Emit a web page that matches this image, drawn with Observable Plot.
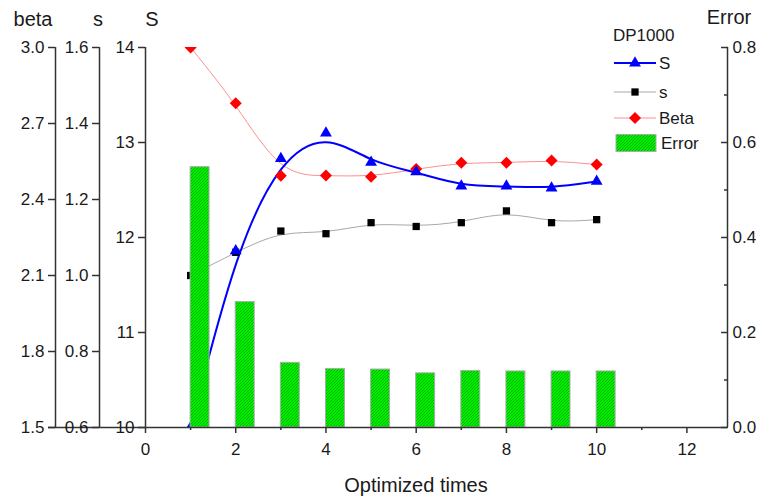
<!DOCTYPE html>
<html><head><meta charset="utf-8">
<script src="https://cdn.jsdelivr.net/npm/d3@7"></script>
<script src="https://cdn.jsdelivr.net/npm/@observablehq/plot@0.6"></script>
<style>
body{margin:0;background:#fff;}
#wrap{position:relative;width:764px;height:497px;font-family:"Liberation Sans",Arial,sans-serif;color:#1a1a1a;}
.t{position:absolute;white-space:nowrap;line-height:1;}
.c{transform:translate(-50%,-50%);}
.l{transform:translate(0,-50%);}
</style></head><body><div id="wrap"></div>
<script>
// ---- data ----
const times = [1,2,3,4,5,6,7,8,9,10];
const S     = [10.0, 11.86, 12.83, 13.10, 12.79, 12.69, 12.54, 12.54, 12.52, 12.59];
const sVals = [1.00, 1.061, 1.117, 1.110, 1.139, 1.129, 1.139, 1.170, 1.139, 1.147];
const beta  = [3.0, 2.78, 2.494, 2.495, 2.49, 2.52, 2.545, 2.545, 2.554, 2.538];
const error = [0.548, 0.264, 0.136, 0.123, 0.122, 0.114, 0.119, 0.118, 0.118, 0.118];

const xTicks = [0,2,4,6,8,10,12];
const xMinor = [1,3,5,7,9,11];
const STicks = [10,11,12,13,14];
const sTicks = [0.6,0.8,1.0,1.2,1.4,1.6];
const betaTicks = [1.5,1.8,2.1,2.4,2.7,3.0];
const errTicks = [0,0.2,0.4,0.6,0.8];
const errMinor = [0.1,0.3,0.5,0.7];
const legendLabels = ["S","s","Beta","Error"];
const legendTitle = "DP1000";

// ---- scale mapping (all series share the S scale, 10..14) ----
const SDom = [10,14], sDom = [0.6,1.6], bDom = [1.5,3.0], eDom = [0,0.8];
const mapTo = dom => v => SDom[0] + (v - dom[0]) * (SDom[1]-SDom[0]) / (dom[1]-dom[0]);
const mapFrom = dom => v => dom[0] + (v - SDom[0]) * (dom[1]-dom[0]) / (SDom[1]-SDom[0]);
const fs = mapTo(sDom), fb = mapTo(bDom), fe = mapTo(eDom);
const gs = mapFrom(sDom), gb = mapFrom(bDom), ge = mapFrom(eDom);
const barWidth = 0.42;
const xDom = [0, 12.9];

const rows = times.map((t,i)=>({t, S:S[i], s:fs(sVals[i]), beta:fb(beta[i]), err:fe(error[i]), base:fe(0), t2:t+barWidth}));

const axisStyle = {stroke:"#333", strokeWidth:1.5, label:null, fill:"#1a1a1a"};
const plot = Plot.plot({
  width:764, height:497, marginTop:47, marginBottom:70, marginLeft:145, marginRight:37,
  x:{domain:xDom}, y:{domain:SDom},
  style:{fontFamily:"Liberation Sans, Arial, sans-serif", fontSize:"17px", color:"#1a1a1a", background:"#fff", overflow:"visible"},
  marks:[
    Plot.line(rows,{x:"t",y:"beta",curve:"basis",stroke:"#ff8f8f",strokeWidth:1,clip:true}),
    Plot.line(rows,{x:"t",y:"s",curve:"basis",stroke:"#a8a8a8",strokeWidth:1}),
    Plot.line(rows,{x:"t",y:"S",curve:"basis",stroke:"#0000ff",strokeWidth:2,clip:true}),
    Plot.dot(rows,{x:"t",y:"beta",symbol:"diamond2",r:5.4,fill:"#ff0000",stroke:"none",clip:true}),
    Plot.dot(rows,{x:"t",y:"s",symbol:"square",r:4.1,fill:"#000",stroke:"none"}),
    Plot.dot(rows,{x:"t",y:"S",symbol:"triangle",r:4.4,fill:"#0000ff",stroke:"none",clip:true}),
    Plot.rect(rows,{x1:"t",x2:"t2",y1:"base",y2:"err",fill:"url(#hatch)",stroke:"#aaaaaa",strokeWidth:1}),
    // axis lines
    Plot.ruleY([SDom[0]],{stroke:"#333",strokeWidth:1.5,insetLeft:-97}),
    Plot.ruleX([xDom[0]],{stroke:"#333",strokeWidth:1.5}),
    Plot.ruleX([xDom[0]],{stroke:"#333",strokeWidth:1.5,dx:-46}),
    Plot.ruleX([xDom[0]],{stroke:"#333",strokeWidth:1.5,dx:-90}),
    Plot.ruleX([xDom[1]],{stroke:"#333",strokeWidth:1.5}),
    // x axis
    Plot.axisX(xTicks,{...axisStyle,tickSize:6,tickPadding:9}),
    Plot.axisX(xMinor,{...axisStyle,tickSize:3,tickFormat:()=>""}),
    // left axes
    Plot.axisY(STicks,{...axisStyle,anchor:"left",tickSize:7,tickPadding:4,tickFormat:d=>String(d)}),
    Plot.axisY(sTicks.map(fs),{...axisStyle,anchor:"left",dx:-46,tickSize:7,tickPadding:4,tickFormat:v=>gs(v).toFixed(1)}),
    Plot.axisY(betaTicks.map(fb),{...axisStyle,anchor:"left",dx:-90,tickSize:7,tickPadding:4,tickFormat:v=>gb(v).toFixed(1)}),
    // right axis
    Plot.axisY(errTicks.map(fe),{...axisStyle,anchor:"right",tickSize:-7,tickPadding:12,tickFormat:v=>ge(v).toFixed(1)}),
    Plot.axisY(errMinor.map(fe),{...axisStyle,anchor:"right",tickSize:-4,tickFormat:()=>""})
  ]
});
plot.insertAdjacentHTML("afterbegin",
 `<defs><pattern id="hatch" patternUnits="userSpaceOnUse" width="3" height="3">
   <rect width="3" height="3" fill="#00f000"/>
   <path d="M-1,1 l2,-2 M0,3 l3,-3 M2,4 l2,-2" stroke="#00a800" stroke-width="0.8"/>
  </pattern></defs>`);
const wrap = document.getElementById("wrap");
wrap.appendChild(plot);

function addText(txt, x, y, cls, size){
  const d=document.createElement("div"); d.className="t "+cls; d.textContent=txt;
  d.style.left=x+"px"; d.style.top=y+"px"; d.style.fontSize=size+"px"; wrap.appendChild(d); return d;
}
// axis titles
addText("beta",33,19,"c",20);
addText("s",98,19,"c",20);
addText("S",152,19,"c",20);
addText("Error",729,17,"c",20);
addText("Optimized times",416,485,"c",20);

// legend
addText(legendTitle,613,35,"l",17);
const legY=[63,92,118,143];
const legStyles=[
  {line:"#0000ff",lw:2,sym:d3.symbolTriangle,size:Math.PI*4.4*4.4,fill:"#0000ff"},
  {line:"#a8a8a8",lw:1,sym:d3.symbolSquare,size:Math.PI*4.1*4.1,fill:"#000"},
  {line:"#ff8f8f",lw:1,sym:d3.symbolDiamond2,size:Math.PI*5.4*5.4,fill:"#ff0000"},
  null
];
const ns="http://www.w3.org/2000/svg";
const lsvg=document.createElementNS(ns,"svg");
lsvg.setAttribute("width",764);lsvg.setAttribute("height",497);
lsvg.style.position="absolute";lsvg.style.left="0";lsvg.style.top="0";lsvg.style.pointerEvents="none";
wrap.appendChild(lsvg);
legendLabels.forEach((lab,i)=>{
  const y=legY[i], st=legStyles[i];
  if(st){
    const ln=document.createElementNS(ns,"line");
    ln.setAttribute("x1",614);ln.setAttribute("x2",656);ln.setAttribute("y1",y);ln.setAttribute("y2",y);
    ln.setAttribute("stroke",st.line);ln.setAttribute("stroke-width",st.lw);lsvg.appendChild(ln);
    const p=document.createElementNS(ns,"path");
    p.setAttribute("d",d3.symbol(st.sym,st.size)());p.setAttribute("transform",`translate(635,${y})`);
    p.setAttribute("fill",st.fill);lsvg.appendChild(p);
  } else {
    const r=document.createElementNS(ns,"rect");
    r.setAttribute("x",616);r.setAttribute("y",y-8.5);r.setAttribute("width",40);r.setAttribute("height",17);
    r.setAttribute("fill","url(#hatch)");r.setAttribute("stroke","#aaaaaa");lsvg.appendChild(r);
  }
  addText(lab, st?659:661, y, "l", 17);
});
</script></body></html>
